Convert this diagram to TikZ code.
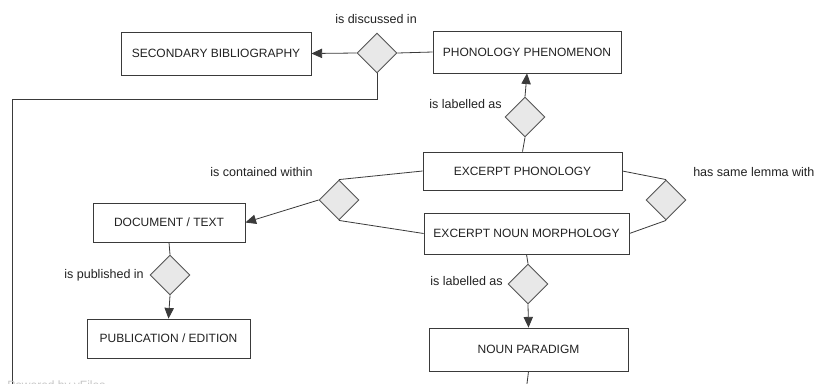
\documentclass[tikz,border=0pt]{standalone}
\usepackage{fontspec}
\setmainfont{Liberation Sans}
\usepackage{xcolor}
\usepackage{tikz}
\usetikzlibrary{shapes.geometric,arrows.meta}

\definecolor{edgegray}{HTML}{3A3A3A}
\definecolor{relfill}{HTML}{E8E8E8}
\definecolor{relline}{HTML}{555555}
\definecolor{txtgray}{HTML}{222222}

\begin{document}
\begin{tikzpicture}[x=0.75pt,y=-0.75pt,
    entity/.style={draw=edgegray,line width=0.6pt,fill=white,inner sep=0pt,
        font=\fontsize{9}{11}\selectfont,text=txtgray},
    relation/.style={diamond,draw=relline,line width=0.65pt,fill=relfill,
        minimum width=30pt,minimum height=30pt,inner sep=0pt},
    rellabel/.style={inner sep=0pt,font=\fontsize{9.4}{11}\selectfont,text=txtgray},
    link/.style={draw=edgegray,line width=0.6pt},
    arr/.style={link,-{Triangle[length=8pt,width=7pt]}}]
    \clip (0,0) rectangle (817,383);
    \fill[white] (0,0) rectangle (817,383);

    % Entities
    \node[entity,minimum width=142.5pt,minimum height=32.25pt] (secbib) at (216,53.5) {SECONDARY BIBLIOGRAPHY};
    \node[entity,minimum width=141pt,minimum height=31.5pt] (phen) at (527,52) {PHONOLOGY PHENOMENON};
    \node[entity,minimum width=149.25pt,minimum height=28.5pt] (exphon) at (522.5,171) {EXCERPT PHONOLOGY};
    \node[entity,minimum width=153.75pt,minimum height=30.75pt] (exnoun) at (526.5,233.5) {EXCERPT NOUN MORPHOLOGY};
    \node[entity,minimum width=114pt,minimum height=29.25pt] (doc) at (169,222.5) {DOCUMENT / TEXT};
    \node[entity,minimum width=122.25pt,minimum height=29.25pt] (pub) at (168.5,338.5) {PUBLICATION / EDITION};
    \node[entity,minimum width=149.25pt,minimum height=32.25pt] (para) at (528.5,349.5) {NOUN PARADIGM};

    % Relations
    \node[relation] (discussed) at (377,53) {};
    \node[relation] (labelup) at (525,117) {};
    \node[relation] (contained) at (339,200) {};
    \node[relation] (lemma) at (666,200) {};
    \node[relation] (published) at (170,275) {};
    \node[relation] (labeldown) at (528,284) {};

    % Relation labels
    \node[rellabel] (discussedtxt) at (376,19) {is discussed in};
    \node[rellabel,anchor=east] (labeluptxt) at (502,104) {is labelled as};
    \node[rellabel,anchor=east] (containedtxt) at (313,172) {is contained within};
    \node[rellabel,anchor=west] (lemmatxt) at (693,172) {has same lemma with};
    \node[rellabel,anchor=east] (publishedtxt) at (144,275) {is published in};
    \node[rellabel,anchor=east] (labeldowntxt) at (503,281) {is labelled as};

    % Connectors
    \draw[arr] (discussed.west) -- (secbib.east);
    \draw[link] (discussed.east) -- (phen.west);
    \coordinate (bibdown) at (12,400);
    \draw[link] (discussed.south) -- (377,99) -| (bibdown);
    \draw[arr] (labelup.north) -- (phen.south);
    \draw[link] (labelup.south) -- (exphon.north);
    \draw[link] (exphon.west) -- (contained.north);
    \draw[link] (contained.south) -- (exnoun.west);
    \draw[arr] (contained.west) -- (doc.east);
    \draw[link] (exphon.east) -- (lemma.north);
    \draw[link] (lemma.south) -- (exnoun.east);
    \draw[link] (doc.south) -- (published.north);
    \draw[arr] (published.south) -- (pub.north);
    \draw[link] (exnoun.south) -- (labeldown.north);
    \draw[arr] (labeldown.south) -- (para.north);
    \coordinate (paradown) at (525,400);
    \draw[link] (para.south) -- (paradown);

    % Watermark (cut off)
    \node[anchor=base west,inner sep=0pt,font=\fontsize{9}{11}\selectfont,text=gray!45] (yfiles) at (7,389) {Powered by yFiles};
\end{tikzpicture}
\end{document}
